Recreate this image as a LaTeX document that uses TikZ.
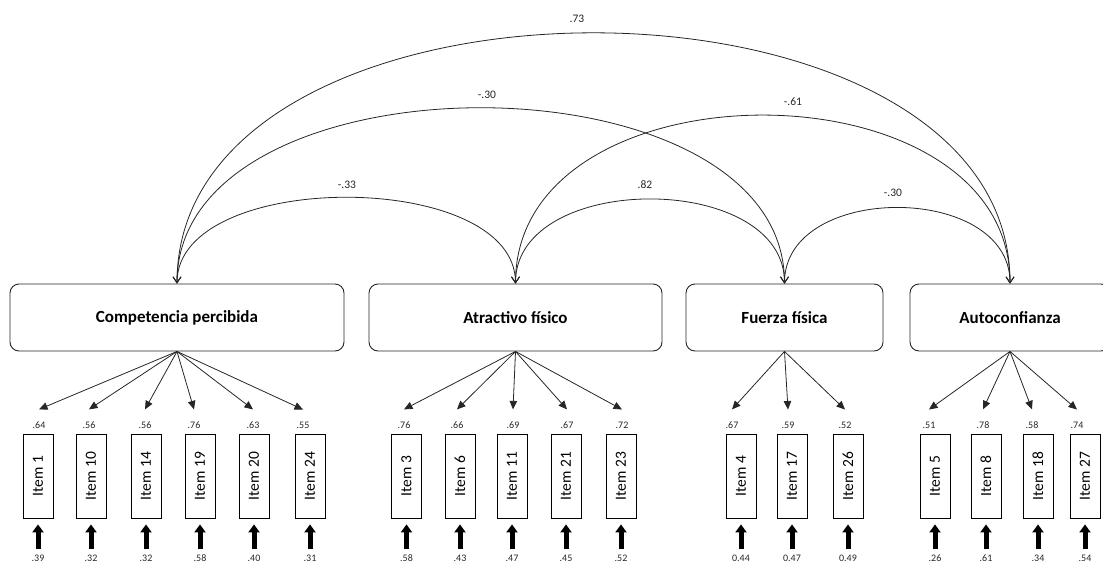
\documentclass[tikz,border=0pt]{standalone}
\usepackage{fontspec}
\setmainfont{Carlito}
\usetikzlibrary{arrows.meta}

\begin{document}
\begin{tikzpicture}[x=1pt,y=1pt,
  factor/.style={draw=black!85, line width=0.9pt, rounded corners=9pt,
    minimum width=#1, minimum height=67pt, inner sep=0pt,
    font=\fontsize{17}{20}\selectfont\bfseries},
  itembox/.style={draw, line width=0.8pt, minimum width=30pt, minimum height=84pt,
    inner sep=0pt, font=\fontsize{15.5}{18}\selectfont},
  num/.style={inner sep=0pt, font=\fontsize{10}{12}\selectfont, text=black!85},
  corrlabel/.style={inner sep=0pt, font=\fontsize{11.5}{13}\selectfont, text=black!85},
  corr/.style={draw=black!85, line width=0.8pt,
    {Straight Barb[length=6pt,width=8pt]}-{Straight Barb[length=6pt,width=8pt]}},
  load/.style={draw=black!85, line width=0.8pt, -{Triangle[length=8.5pt,width=7.5pt]}},
  err/.style={draw, line width=5pt, -{Triangle[length=8pt,width=11pt]}}
]
\useasboundingbox (0,0) rectangle (1103,-565);
\clip (0,0) rectangle (1103,-565);

% latent factors
\node[factor=334pt] (cp) at (177,-317.5) {Competencia percibida};
\node[factor=293pt] (af) at (515.5,-317.5) {Atractivo físico};
\node[factor=197pt] (ff) at (784.5,-317.5) {Fuerza física};
\node[factor=200pt] (ac) at (1010,-317.5) {Autoconfianza};

% correlations between factors
\draw[corr] (cp.north) to[out=90,in=90,looseness=0.869] (af.north);
\draw[corr] (af.north) to[out=90,in=90,looseness=1.072] (ff.north);
\draw[corr] (ff.north) to[out=90,in=90,looseness=1.150] (ac.north);
\draw[corr] (cp.north) to[out=90,in=90,looseness=0.988] (ff.north);
\draw[corr] (af.north) to[out=90,in=90,looseness=1.163] (ac.north);
\draw[corr] (cp.north) to[out=90,in=90,looseness=1.028] (ac.north);

\node[corrlabel] (r1) at (347,-185) {-.33};
\node[corrlabel] (r2) at (645,-185) {.82};
\node[corrlabel] (r3) at (893,-193) {-.30};
\node[corrlabel] (r4) at (487,-95) {-.30};
\node[corrlabel] (r5) at (793,-102) {-.61};
\node[corrlabel] (r6) at (577,-19) {.73};

% indicators: factor / x / loading x / loading / error / item number
\foreach \f/\x/\lx/\ld/\er/\t in {
  cp/38/39/.64/.39/1, cp/91/89/.56/.32/10, cp/146/145/.56/.32/14,
  cp/200/194/.76/.58/19, cp/254/253/.63/.40/20, cp/310/303/.55/.31/24,
  af/406.5/404/.76/.58/3, af/460/457/.66/.43/6, af/512/513/.69/.47/11,
  af/566/567/.67/.45/21, af/621/622/.72/.52/23,
  ff/741/732/.67/0.44/4, ff/792/788/.59/0.47/17, ff/848/845/.52/0.49/26,
  ac/935/929/.51/.26/5, ac/986/983/.78/.61/8, ac/1038/1032/.58/.34/18,
  ac/1085/1077/.74/.54/27}
{
  \node[itembox] (i\t) at (\x,-476) {\rotatebox{90}{Item \t}};
  \node[num] (l\t) at (\lx,-425) {\ld};
  \node[num] (e\t) at ([yshift=-40pt]i\t.south) {\er};
  \draw[load] (\f.south) -- ([yshift=12pt]l\t.north);
  \draw[err] ([yshift=-31pt]i\t.south) -- ([yshift=-6pt]i\t.south);
}
\end{tikzpicture}
\end{document}
